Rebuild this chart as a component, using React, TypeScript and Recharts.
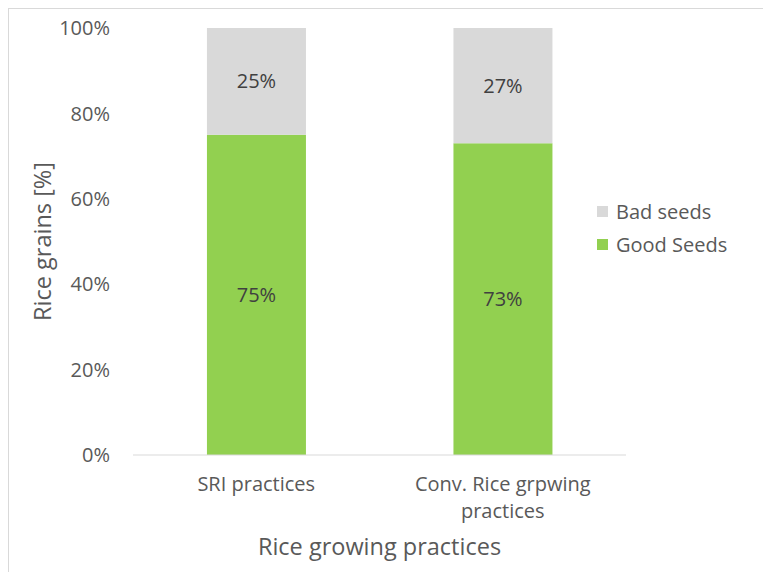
import { BarChart, Bar, XAxis, YAxis, Legend, LabelList, Text } from "recharts"

const categories = ["SRI practices", "Conv. Rice grpwing practices"]
const goodSeeds = [75, 73]
const badSeeds = [25, 27]
const yTicks = [0, 20, 40, 60, 80, 100]

const data = categories.map((name, i) => ({ name, good: goodSeeds[i], bad: badSeeds[i] }))

const FONT = "'Open Sans', sans-serif"
const TEXT = "#595959"

function CategoryTick(props: any) {
  const { x, y, payload } = props
  return (
    <Text
      x={x}
      y={y + 14}
      width={200}
      textAnchor="middle"
      verticalAnchor="start"
      lineHeight="27px"
      fill={TEXT}
      fontSize={20}
      fontFamily={FONT}
      style={{ fontSize: 20, fontFamily: FONT }}
    >
      {payload.value}
    </Text>
  )
}

function LegendBox(props: any) {
  const items = props.payload || []
  return (
    <div style={{ fontFamily: FONT, fontSize: 20, color: TEXT }}>
      {items.map((it: any) => (
        <div key={it.value} style={{ display: "flex", alignItems: "center", height: 33 }}>
          <span style={{ width: 11, height: 11, background: it.color, marginRight: 8, display: "inline-block" }} />
          {it.value}
        </div>
      ))}
    </div>
  )
}

export default function App() {
  return (
    <div
      style={{
        width: 763,
        height: 564,
        borderTop: "1px solid #d9d9d9",
        borderLeft: "1px solid #d9d9d9",
        boxSizing: "border-box",
        background: "#fff",
      }}
    >
      <BarChart
        width={762}
        height={563}
        data={data}
        margin={{ top: 19, right: 0, left: 9, bottom: 9 }}
        barCategoryGap="30%"
      >
        <XAxis
          dataKey="name"
          axisLine={{ stroke: "#d9d9d9" }}
          tickLine={false}
          height={108}
          interval={0}
          tick={<CategoryTick />}
          label={{
            content: (p: any) => {
              const vb = p.viewBox
              return (
                <text
                  x={vb.x + vb.width / 2}
                  y={vb.y + 91}
                  textAnchor="middle"
                  dominantBaseline="central"
                  fill={TEXT}
                  fontSize={23.5}
                  fontFamily={FONT}
                >
                  Rice growing practices
                </text>
              )
            },
          }}
        />
        <YAxis
          domain={[0, 100]}
          ticks={yTicks}
          tickFormatter={(v: number) => `${v}%`}
          axisLine={false}
          tickLine={false}
          tickSize={0}
          tickMargin={23}
          width={115}
          tick={{ fill: TEXT, fontSize: 20, fontFamily: FONT }}
          label={{
            content: (p: any) => {
              const vb = p.viewBox
              const cx = vb.x + 24
              const cy = vb.y + vb.height / 2
              return (
                <text
                  x={cx}
                  y={cy}
                  transform={`rotate(-90 ${cx} ${cy})`}
                  textAnchor="middle"
                  dominantBaseline="central"
                  fill={TEXT}
                  fontSize={23.5}
                  fontFamily={FONT}
                >
                  Rice grains [%]
                </text>
              )
            },
          }}
        />
        <Legend
          layout="vertical"
          align="right"
          verticalAlign="middle"
          content={<LegendBox />}
          wrapperStyle={{ left: 588, top: 186, width: 145 }}
        />
        <Bar dataKey="good" name="Good Seeds" stackId="a" fill="#92d050" isAnimationActive={false}>
          <LabelList
            dataKey="good"
            position="center"
            formatter={(v: any) => `${v}%`}
            fill="#404040"
            fontSize={20}
            fontFamily={FONT}
          />
        </Bar>
        <Bar dataKey="bad" name="Bad seeds" stackId="a" fill="#d9d9d9" isAnimationActive={false}>
          <LabelList
            dataKey="bad"
            position="center"
            formatter={(v: any) => `${v}%`}
            fill="#404040"
            fontSize={20}
            fontFamily={FONT}
          />
        </Bar>
      </BarChart>
    </div>
  )
}
